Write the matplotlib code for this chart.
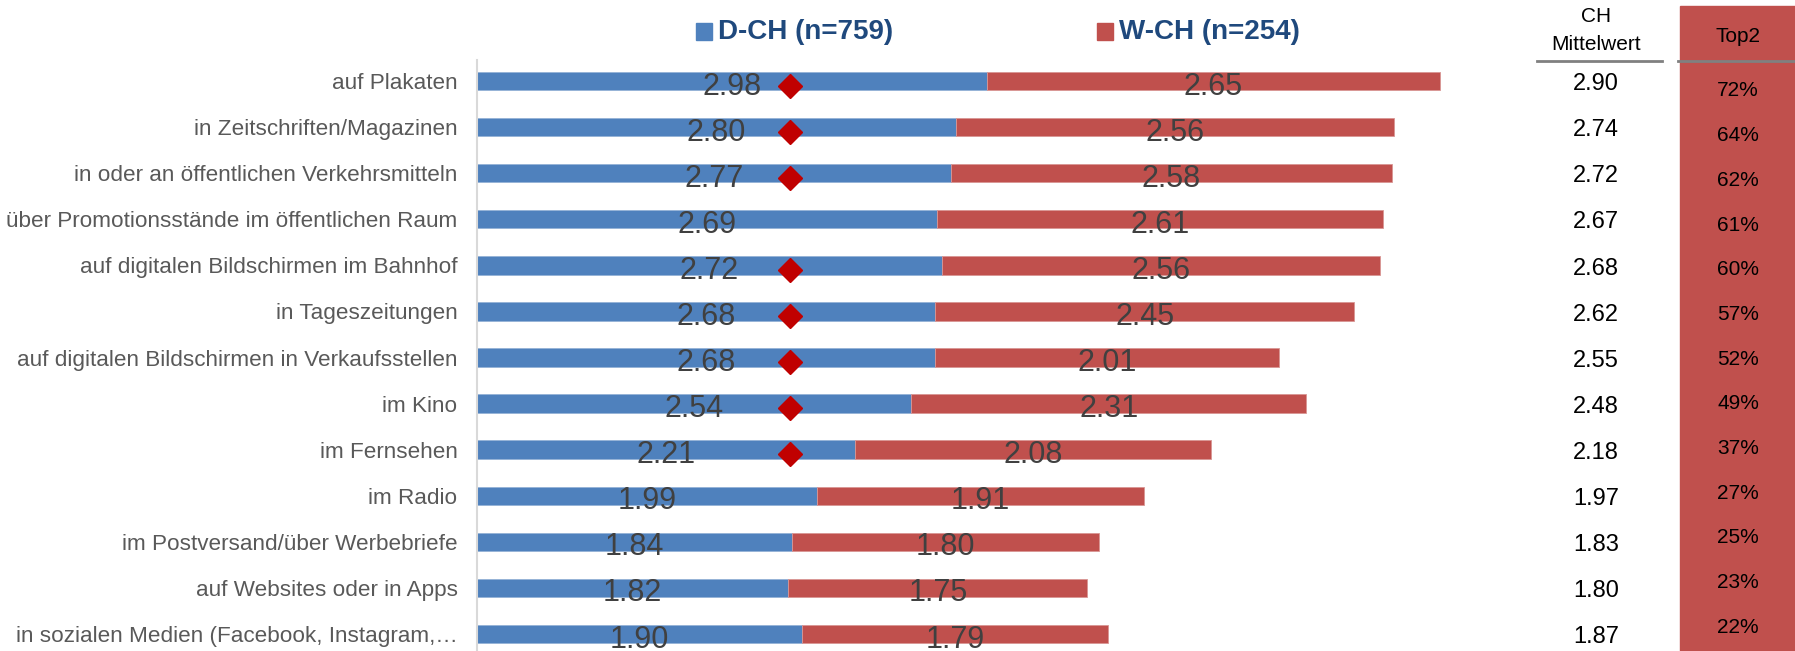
import matplotlib

matplotlib.use("Agg")
import matplotlib.pyplot as plt
from matplotlib import font_manager
from matplotlib.patches import Rectangle
from matplotlib.lines import Line2D

# ── data ───────────────────────────────────────────────────────────────────
categories = [
    "auf Plakaten",
    "in Zeitschriften/Magazinen",
    "in oder an öffentlichen Verkehrsmitteln",
    "über Promotionsstände im öffentlichen Raum",
    "auf digitalen Bildschirmen im Bahnhof",
    "in Tageszeitungen",
    "auf digitalen Bildschirmen in Verkaufsstellen",
    "im Kino",
    "im Fernsehen",
    "im Radio",
    "im Postversand/über Werbebriefe",
    "auf Websites oder in Apps",
    "in sozialen Medien (Facebook, Instagram,…",
]
d_ch = [2.98, 2.80, 2.77, 2.69, 2.72, 2.68, 2.68, 2.54, 2.21, 1.99, 1.84, 1.82, 1.90]
w_ch = [2.65, 2.56, 2.58, 2.61, 2.56, 2.45, 2.01, 2.31, 2.08, 1.91, 1.80, 1.75, 1.79]
ch_mean = [2.90, 2.74, 2.72, 2.67, 2.68, 2.62, 2.55, 2.48, 2.18, 1.97, 1.83, 1.80, 1.87]
top2 = [72, 64, 62, 61, 60, 57, 52, 49, 37, 27, 25, 23, 22]
sig = [1, 1, 1, 0, 1, 1, 1, 1, 1, 0, 0, 0, 0]
sig_x = 1.83
series_names = ["D-CH (n=759)", "W-CH (n=254)"]

BLUE = "#4F81BD"
RED = "#C0504D"
DIAMOND = "#C00000"
LEGEND_TXT = "#1F497D"

_names = {f.name for f in font_manager.fontManager.ttflist}
NARROW = "Liberation Sans Narrow" if "Liberation Sans Narrow" in _names else "Liberation Sans"
REG = "Liberation Sans"

W, H = 1795, 651
fig = plt.figure(figsize=(W / 100, H / 100), dpi=100)

# main axes: x=0 at 477px, 171 px per unit; top at 60px, bottom at image edge
x0_px, ppu = 477, 171
xmax = 5.8
ax = fig.add_axes([x0_px / W, 0, xmax * ppu / W, 1 - 60 / H])
n = len(categories)
y = list(range(n))

ax.barh(y, d_ch, height=0.4, color=BLUE, edgecolor="#95B3D7", linewidth=0.6, zorder=2)
ax.barh(y, w_ch, left=d_ch, height=0.4, color=RED, edgecolor="#D99694", linewidth=0.6, zorder=2)

for i in range(n):
    ax.text(d_ch[i] / 2, i + 0.12, f"{d_ch[i]:.2f}", ha="center", va="center",
            fontsize=22, family=NARROW, color="#404040", zorder=4)
    ax.text(d_ch[i] + w_ch[i] / 2, i + 0.12, f"{w_ch[i]:.2f}", ha="center", va="center",
            fontsize=22, family=NARROW, color="#404040", zorder=4)
    if sig[i]:
        ax.plot(sig_x, i + 0.1, marker="D", markersize=12, color=DIAMOND, zorder=5)

ax.set_xlim(0, xmax)
ax.set_ylim(n - 1 + 0.369, -0.456)
ax.set_yticks(y)
ax.set_yticklabels(categories, fontsize=16.2, family=REG, color="#595959")
ax.tick_params(axis="y", length=0, pad=14)
ax.set_xticks([])
for s in ["top", "right", "bottom"]:
    ax.spines[s].set_visible(False)
ax.spines["left"].set_color("#D9D9D9")
ax.spines["left"].set_linewidth(1.5)

# legend
for name, color, sx in zip(series_names, [BLUE, RED], [696, 1097]):
    fig.add_artist(Rectangle((sx / W, 1 - 40 / H), 16 / W, 17 / H,
                             transform=fig.transFigure, color=color))
    fig.text((sx + 22) / W, 1 - 32 / H, name, ha="left", va="center",
             fontsize=20, fontweight="bold", family=NARROW, color=LEGEND_TXT)

# CH Mittelwert column
fig.text(1596 / W, 1 - 17 / H, "CH", ha="center", va="center", fontsize=15, family=NARROW)
fig.text(1596 / W, 1 - 45 / H, "Mittelwert", ha="center", va="center", fontsize=15, family=NARROW)
fig.add_artist(Line2D([1537 / W, 1662 / W], [1 - 61 / H] * 2, transform=fig.transFigure,
                      color="#808080", linewidth=2))
for i, v in enumerate(ch_mean):
    yy = ax.transData.transform((0, i + 0.07))[1]
    fig.text(1596 / W, yy / fig.dpi / fig.get_figheight(), f"{v:.2f}", ha="center",
             va="center", fontsize=17, family=REG, color="black")

# Top2 column
fig.add_artist(Rectangle((1680 / W, 0), (W - 1680) / W, 1 - 6 / H,
                         transform=fig.transFigure, color=RED, zorder=0))
fig.add_artist(Line2D([1678 / W, 1], [1 - 61 / H] * 2, transform=fig.transFigure,
                      color="#808080", linewidth=2))
fig.text(1738 / W, 1 - 37 / H, "Top2", ha="center", va="center", fontsize=15, family=NARROW)
for i, v in enumerate(top2):
    fig.text(1738 / W, 1 - (91 + i * 44.67) / H, f"{v}%", ha="center", va="center",
             fontsize=15, family=NARROW, color="black")

fig.savefig("out.png", dpi=100, facecolor="white")
